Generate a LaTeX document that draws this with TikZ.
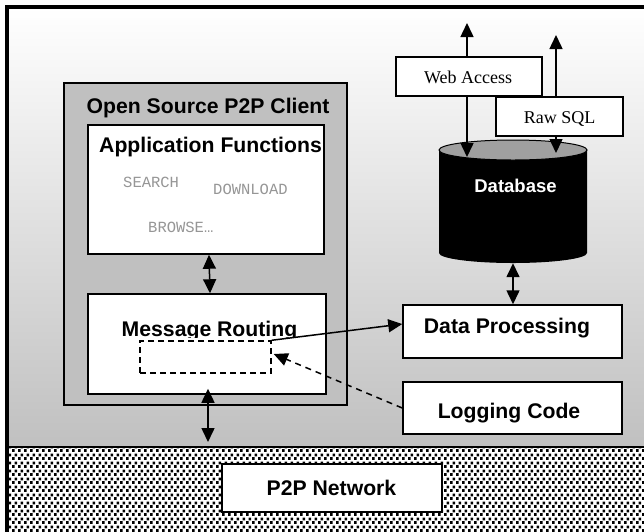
\documentclass[tikz,border=0pt]{standalone}
\usepackage{fontspec}
\setmainfont{Liberation Serif}
\setsansfont{Liberation Sans}
\setmonofont{Liberation Mono}
\usetikzlibrary{arrows.meta,patterns}
\definecolor{bgbottom}{RGB}{192,192,192}
\definecolor{clientgray}{RGB}{192,192,192}
\definecolor{lightword}{RGB}{150,150,150}
\definecolor{dbtop}{RGB}{160,160,160}
\pgfdeclarepatternformonly{sqdots}{\pgfpointorigin}{\pgfqpoint{6pt}{8pt}}{\pgfqpoint{6pt}{8pt}}{%
  \pgfpathrectangle{\pgfqpoint{0pt}{0pt}}{\pgfqpoint{3.1pt}{3.1pt}}%
  \pgfpathrectangle{\pgfqpoint{3pt}{4pt}}{\pgfqpoint{3.1pt}{3.1pt}}%
  \pgfusepath{fill}}
\tikzset{
  boxw/.style={draw=black, line width=1.5pt, fill=white, inner sep=0pt},
  headtxt/.style={font=\fontsize{21.2}{25}\selectfont\sffamily\bfseries, inner sep=0pt, anchor=base},
  sertxt/.style={font=\fontsize{18}{21}\selectfont\rmfamily},
  monotxt/.style={font=\fontsize{15.5}{18}\selectfont\ttfamily, text=lightword, inner sep=0pt, anchor=base west},
  tip/.tip={Triangle[length=14pt,width=13pt]},
  dbl/.style={line width=1.5pt, tip-tip},
  sgl/.style={line width=1.5pt, -tip},
}
\begin{document}
\begin{tikzpicture}[x=1pt,y=-1pt]
\useasboundingbox (0,0) rectangle (644,531);
% background
\shade[top color=white, bottom color=bgbottom] (7,7) rectangle (650,447);
\fill[white] (7,447) rectangle (650,540);
\fill[pattern=sqdots, pattern color=black] (7,447) rectangle (650,540);
\draw[line width=1.5pt] (7,447) -- (650,447);

% P2P client
\node[draw=black, line width=1.5pt, fill=clientgray, minimum width=283pt, minimum height=322pt, inner sep=0pt] (client) at (205.5,244) {};
\node[headtxt] (clienttitle) at (208,113) {Open Source P2P Client};

\node[boxw, minimum width=236pt, minimum height=129pt] (app) at (206,189.5) {};
\node[headtxt] (apptitle) at (210.5,152) {Application Functions};
\node[monotxt] (search) at (123,187) {SEARCH};
\node[monotxt] (download) at (213,194) {DOWNLOAD};
\node[monotxt] (browse) at (148,232) {BROWSE…};

\node[boxw, minimum width=238pt, minimum height=100pt] (mr) at (207,344) {};
\begin{scope}
  \clip (90,296) rectangle (324,337.5);
  \node[headtxt] (mrtitle) at (209.5,336) {Message Routing};
\end{scope}
\node[draw=black, line width=1.5pt, dash pattern=on 6pt off 4pt, minimum width=131pt, minimum height=32pt, inner sep=0pt] (hook) at (205.5,357) {};

% right side boxes
\node[boxw, minimum width=219pt, minimum height=53pt] (dp) at (512.5,331.5) {};
\node[headtxt] (dptitle) at (507,333) {Data Processing};
\node[boxw, minimum width=219pt, minimum height=52pt] (log) at (512.5,408) {};
\node[headtxt] (logtitle) at (509,418) {Logging Code};
\node[boxw, minimum width=220pt, minimum height=48pt] (net) at (332,488) {};
\node[headtxt] (nettitle) at (331.5,495) {P2P Network};

% database cylinder
\fill[black] (439,150) -- (439,253) arc[start angle=180, end angle=0, x radius=74, y radius=10] -- (587,150) -- cycle;
\draw[line width=1pt, fill=dbtop] (513,150) ellipse [x radius=74, y radius=10];
\node[inner sep=0pt, minimum width=148pt, minimum height=123pt] (db) at (513,201.5) {};
\node[font=\fontsize{18.5}{22}\selectfont\sffamily\bfseries, text=white, inner sep=0pt, anchor=base] (dbtitle) at (515.5,192) {Database};

% access arrows (behind boxes)
\coordinate (webup) at (467,23);
\coordinate (webdown) at (467,157);
\coordinate (sqlup) at (556,35);
\coordinate (sqldown) at (556,153);
\draw[dbl] (webup) -- (webdown);
\draw[dbl] (sqlup) -- (sqldown);
\node[boxw, minimum width=146pt, minimum height=39pt] (web) at (469,76.5) {};
\node[sertxt, inner sep=0pt, anchor=base] (webtxt) at (468,83) {Web Access};
\node[boxw, minimum width=127pt, minimum height=39pt] (sql) at (559.5,116.5) {};
\node[sertxt, inner sep=0pt, anchor=base] (sqltxt) at (559.5,123) {Raw SQL};

% connectors
\draw[dbl] (db.south) -- (db.south |- dp.north);
\draw[dbl] ([xshift=3pt]app.south) -- ([xshift=3pt]mr.north);
\coordinate (netin) at (208,442);
\draw[dbl] ([xshift=1pt,yshift=6pt]mr.south) -- (netin);
\draw[sgl] (hook.north east) -- ([yshift=7.5pt]dp.west);
\draw[sgl, dash pattern=on 6pt off 5pt] (log.west) -- ([shift={(2pt,3pt)}]hook.east);

% outer frame
\draw[line width=3.5pt] (7,7) rectangle (660,545);
\end{tikzpicture}
\end{document}
